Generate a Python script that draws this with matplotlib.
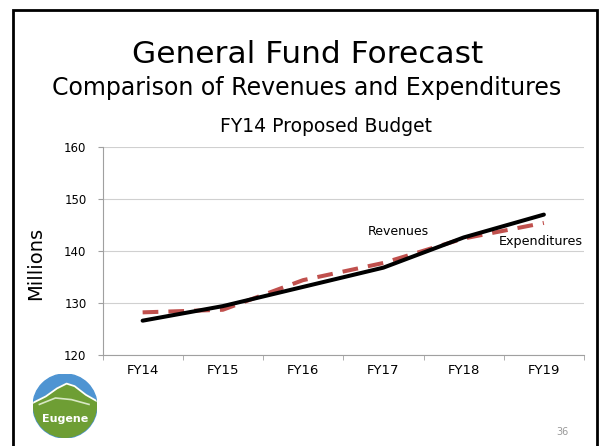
import matplotlib
matplotlib.use("Agg")
import matplotlib.pyplot as plt
from matplotlib.patches import Rectangle, Circle, Polygon

categories = ["FY14", "FY15", "FY16", "FY17", "FY18", "FY19"]
revenues = [126.6, 129.4, 133.1, 136.8, 142.6, 147.0]
expenditures = [128.2, 128.7, 134.4, 137.7, 142.4, 145.4]
yticks = [120, 130, 140, 150, 160]

W, H = 602, 446
fig = plt.figure(figsize=(W / 100, H / 100), dpi=100)
fig.patch.set_facecolor("white")
font = "DejaVu Sans"

def fx(px):
    return px / W

def fy(py):
    return 1 - py / H

# slide border
fig.add_artist(Rectangle((fx(13), -0.05), fx(597 - 13), (446 - 10) / H + 0.05,
                         transform=fig.transFigure, fill=False, lw=2.0, ec="black"))

fig.text(fx(308), fy(63), "General Fund Forecast", ha="center", va="baseline",
         fontsize=22.5, family=font)
fig.text(fx(306.5), fy(95), "Comparison of Revenues and Expenditures", ha="center",
         va="baseline", fontsize=17, family=font)
fig.text(fx(326.5), fy(132), "FY14 Proposed Budget", ha="center", va="baseline",
         fontsize=13.5, family=font)
fig.text(fx(36), fy(263), "Millions", ha="center", va="center", rotation=90,
         fontsize=14, family=font)

ax = fig.add_axes([fx(102.5), fy(355), fx(584 - 102.5), (355 - 147) / H])
x = list(range(len(categories)))
ax.plot(x, expenditures, color="#C0504D", lw=2.9, ls=(0, (3.9, 2.5)), zorder=2,
        dash_capstyle="butt")
ax.plot(x, revenues, color="black", lw=2.9, zorder=3, solid_capstyle="round")

ax.set_xlim(-0.5, len(categories) - 0.5)
ax.set_ylim(120, 160)
ax.set_yticks(yticks)
ax.set_yticklabels([str(v) for v in yticks], fontsize=8.5, family=font)
ax.set_xticks(x)
ax.set_xticklabels(categories, fontsize=9.5, family=font)
ax.set_xticks([i - 0.5 for i in range(len(categories) + 1)], minor=True)
ax.tick_params(axis="x", which="major", length=0, pad=6.5)
ax.tick_params(axis="x", which="minor", length=3.5, color="#a0a0a0", direction="out")
ax.tick_params(axis="y", length=3.5, color="#a0a0a0", pad=8)
ax.grid(axis="y", color="#d0d0d0", lw=0.8)
ax.set_axisbelow(True)
for s in ["top", "right"]:
    ax.spines[s].set_visible(False)
for s in ["left", "bottom"]:
    ax.spines[s].set_color("#a0a0a0")
    ax.spines[s].set_linewidth(0.8)

ax.text(3.19, 143.7, "Revenues", ha="center", va="center", fontsize=9, family=font)
ax.text(4.96, 141.8, "Expenditures", ha="center", va="center", fontsize=9.2, family=font)

# page number
fig.text(fx(562), fy(432), "36", ha="center", va="center", fontsize=7,
         color="#999999", family=font)

# logo
r = 32
lax = fig.add_axes([fx(65 - r), fy(406 + r), fx(2 * r), 2 * r / H])
lax.set_xlim(-1, 1)
lax.set_ylim(-1, 1)
lax.axis("off")
disc = Circle((0, 0), 1.0, color="#4E94D2")
lax.add_patch(disc)
lax.add_patch(Rectangle((-1, -1), 2, 1.0, color="#6E9E34", clip_path=disc))
hill = Polygon([(-1.0, 0.1), (-0.6, 0.3), (-0.25, 0.55), (0.05, 0.7), (0.3, 0.62),
                (0.65, 0.35), (1.0, 0.15), (1.0, -0.05), (-1.0, -0.05)],
               closed=True, color="#6E9E34")
lax.add_patch(hill)
hill.set_clip_path(disc)
ln, = lax.plot([-1.0, -0.6, -0.25, 0.05, 0.3, 0.65, 1.0],
               [0.1, 0.3, 0.55, 0.7, 0.62, 0.35, 0.15], color="white", lw=1.3)
ln.set_clip_path(disc)
lax.plot([-0.8, -0.3, 0.2, 0.75], [0.05, 0.25, 0.2, 0.05], color="#D8E8C4", lw=1.2)
lax.text(0, -0.42, "Eugene", ha="center", va="center", color="white", fontsize=8,
         fontweight="bold", family=font)

fig.savefig("out.png", dpi=100)
